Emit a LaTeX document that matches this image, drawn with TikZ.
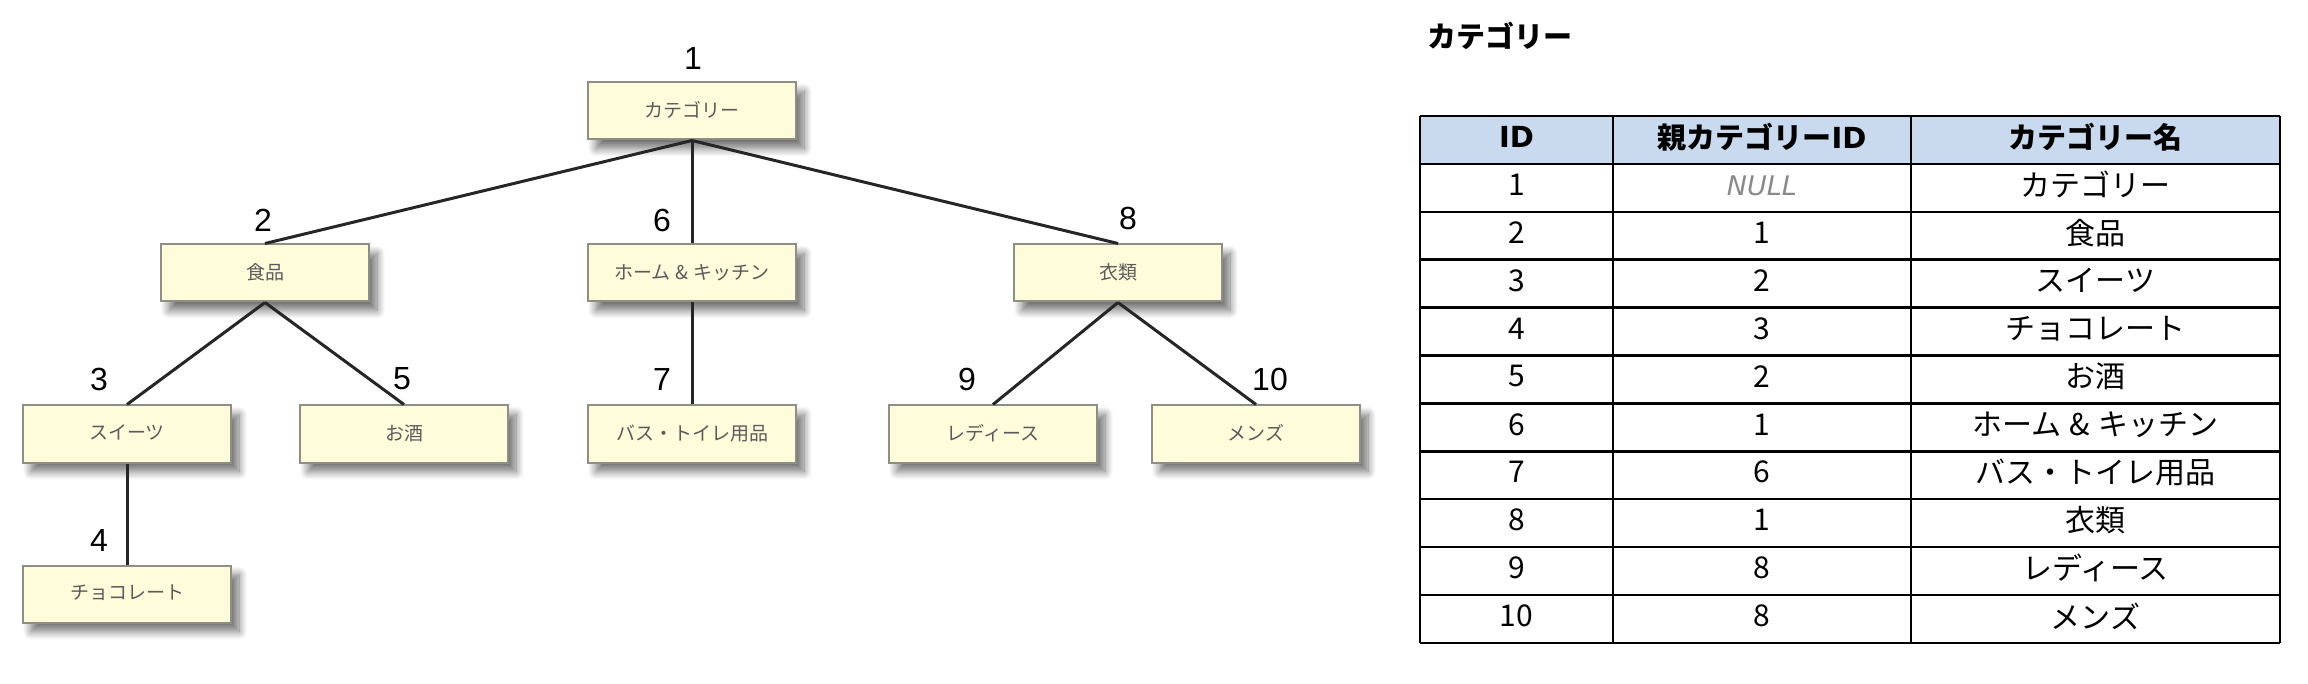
\documentclass[tikz,border=0pt]{standalone}
\usepackage{fontspec}
\setmainfont{Noto Sans CJK JP}
\newfontfamily\numf{Liberation Sans}
\newfontfamily\verd{DejaVu Sans}
\usetikzlibrary{shadows.blur}
\definecolor{boxfill}{HTML}{FFFCDC}
\definecolor{boxdraw}{HTML}{8E8E84}
\definecolor{boxtext}{HTML}{5A5A5A}
\definecolor{headfill}{HTML}{C9D9EE}
\definecolor{nullgray}{HTML}{8A8A8A}
\tikzset{
  catbox/.style={draw=boxdraw, line width=2pt, fill=boxfill, minimum width=208pt, minimum height=57pt,
    inner sep=0pt, text=boxtext, font=\fontsize{19}{22}\selectfont, text depth=3pt,
    blur shadow={shadow xshift=8pt, shadow yshift=-9pt, shadow blur steps=10, shadow blur radius=8pt, shadow opacity=55}},
  idlabel/.style={font=\numf\fontsize{32}{36}\selectfont, text=black, inner sep=0pt},
  edge/.style={line width=3pt, draw=black!85},
  cell/.style={font=\fontsize{30}{34}\selectfont, inner sep=0pt},
  hcell/.style={font=\bfseries\fontsize{29}{34}\selectfont, inner sep=0pt},
  grid/.style={line width=2.5pt, draw=black}
}
\begin{document}
\begin{tikzpicture}[x=1pt, y=-1pt]
\useasboundingbox (0,0) rectangle (2308,684);
% tree boxes
\node[catbox] (b1) at (692,111) {カテゴリー};
\node[catbox] (b2) at (265,273) {食品};
\node[catbox] (b6) at (692,273) {ホーム\hspace{5pt}\&\hspace{5pt}キッチン};
\node[catbox] (b8) at (1118,273) {衣類};
\node[catbox] (b3) at (127,434) {スイーツ};
\node[catbox] (b5) at (404,434) {お酒};
\node[catbox] (b7) at (692,434) {バス・トイレ用品};
\node[catbox] (b9) at (993,434) {レディース};
\node[catbox] (b10) at (1256,434) {メンズ};
\node[catbox] (b4) at (127,594) {チョコレート};
% connectors
\draw[edge] (b1.south) -- (b2.north);
\draw[edge] (b1.south) -- (b6.north);
\draw[edge] (b1.south) -- (b8.north);
\draw[edge] (b2.south) -- (b3.north);
\draw[edge] (b2.south) -- (b5.north);
\draw[edge] (b3.south) -- (b4.north);
\draw[edge] (b6.south) -- (b7.north);
\draw[edge] (b8.south) -- (b9.north);
\draw[edge] (b8.south) -- (b10.north);
% id labels
\node[idlabel] (l1) at (693,58) {1};
\node[idlabel] (l2) at (263,220) {2};
\node[idlabel] (l6) at (662,220) {6};
\node[idlabel] (l8) at (1128,218) {8};
\node[idlabel] (l3) at (99,379) {3};
\node[idlabel] (l5) at (402,379) {5};
\node[idlabel] (l7) at (662,379) {7};
\node[idlabel] (l9) at (967,379) {9};
\node[idlabel] (l10) at (1270,379) {10};
\node[idlabel] (l4) at (99,540) {4};
% table title
\node[anchor=west, font=\bfseries\fontsize{29}{32}\selectfont, inner sep=0pt] (title) at (1427,36) {カテゴリー};
% table
\fill[headfill] (1420,116) rectangle (2280,164);
\foreach \i in {0,...,11} {
  \draw[grid] (1420,116+\i*47.9) -- (2280,116+\i*47.9);
}
\foreach \x in {1420,1613,1911,2280} {
  \draw[grid] (\x,116) -- (\x,643);
}
\node[hcell] (h1) at (1516.5,137) {\verd ID};
\node[hcell] (h2) at (1762,137) {親カテゴリー{\verd ID}};
\node[hcell] (h3) at (2095.5,137) {カテゴリー名};
\foreach \r/\id/\p/\n in {1/1/{}/カテゴリー, 2/2/1/食品, 3/3/2/スイーツ, 4/4/3/チョコレート, 5/5/2/お酒, 6/6/1/ホーム\hspace{8pt}\&\hspace{8pt}キッチン, 7/7/6/バス・トイレ用品, 8/8/1/衣類, 9/9/8/レディース, 10/10/8/メンズ} {
  \node[cell] (c\r a) at (1516.5,137+\r*47.9) {\id};
  \node[cell] (c\r b) at (1762,137+\r*47.9) {\p};
  \node[cell] (c\r c) at (2095.5,137+\r*47.9) {\n};
}
\node[cell, font=\verd\itshape\fontsize{27}{32}\selectfont, text=nullgray] (null) at (1762,185.9) {NULL};
\end{tikzpicture}
\end{document}
